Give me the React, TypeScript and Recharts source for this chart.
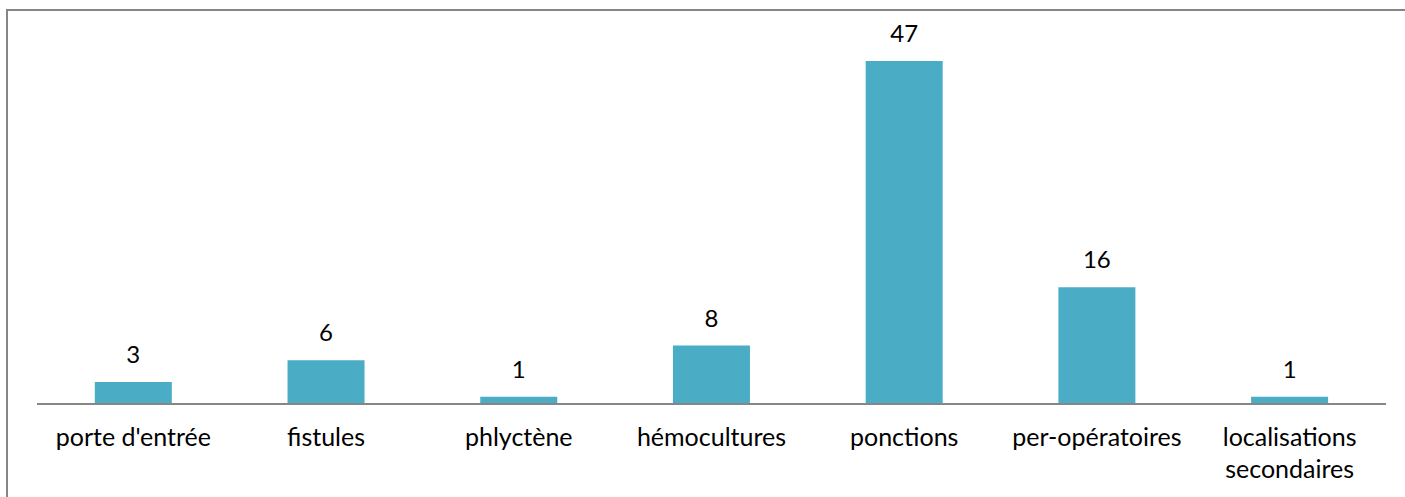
import React from 'react';
import { BarChart, Bar, XAxis, YAxis, LabelList } from 'recharts';

// categories and counts
const categories = [
  'porte d\'entrée',
  'fistules',
  'phlyctène',
  'hémocultures',
  'ponctions',
  'per-opératoires',
  'localisations secondaires',
];
const counts = [3, 6, 1, 8, 47, 16, 1];

// long labels are split on two lines like Excel does
const wrapAt = ['localisations secondaires'];

const data = categories.map((name, i) => ({ name, value: counts[i] }));

const FONT = 'Lato, "Open Sans", sans-serif';

const CategoryTick = (props: any) => {
  const { x, y, payload } = props;
  const label: string = payload.value;
  const lines = wrapAt.includes(label) ? label.split(' ') : [label];
  return (
    <text x={x} y={y} textAnchor="middle" fontSize={25} fontFamily={FONT} fill="#000">
      {lines.map((line, i) => (
        <tspan key={i} x={x} dy={i === 0 ? 34 : 32}>
          {line}
        </tspan>
      ))}
    </text>
  );
};

const App: React.FC = () => {
  return (
    <div style={{ position: 'absolute', left: 0, top: 0, width: 1405, height: 497, background: '#fff' }}>
      {/* chart frame: only top and left edges show in the picture */}
      <div
        style={{
          position: 'absolute',
          left: 6,
          top: 9,
          right: 0,
          bottom: 0,
          borderTop: '2px solid #868686',
          borderLeft: '2px solid #868686',
        }}
      />
      <div style={{ position: 'absolute', left: 0, top: 0 }}>
        <BarChart
          width={1405}
          height={497}
          data={data}
          margin={{ top: 39, right: 19, bottom: 0, left: 37 }}
          barCategoryGap="30%"
        >
          <YAxis hide domain={[0, 50]} />
          <XAxis
            dataKey="name"
            height={93}
            axisLine={{ stroke: '#868686', strokeWidth: 2 }}
            tickLine={false}
            tick={<CategoryTick />}
            interval={0}
          />
          <Bar dataKey="value" fill="#4BACC6" isAnimationActive={false}>
            <LabelList
              dataKey="value"
              position="top"
              offset={19}
              fontSize={24}
              fontFamily={FONT}
              fill="#000"
            />
          </Bar>
        </BarChart>
      </div>
    </div>
  );
};

export default App;
